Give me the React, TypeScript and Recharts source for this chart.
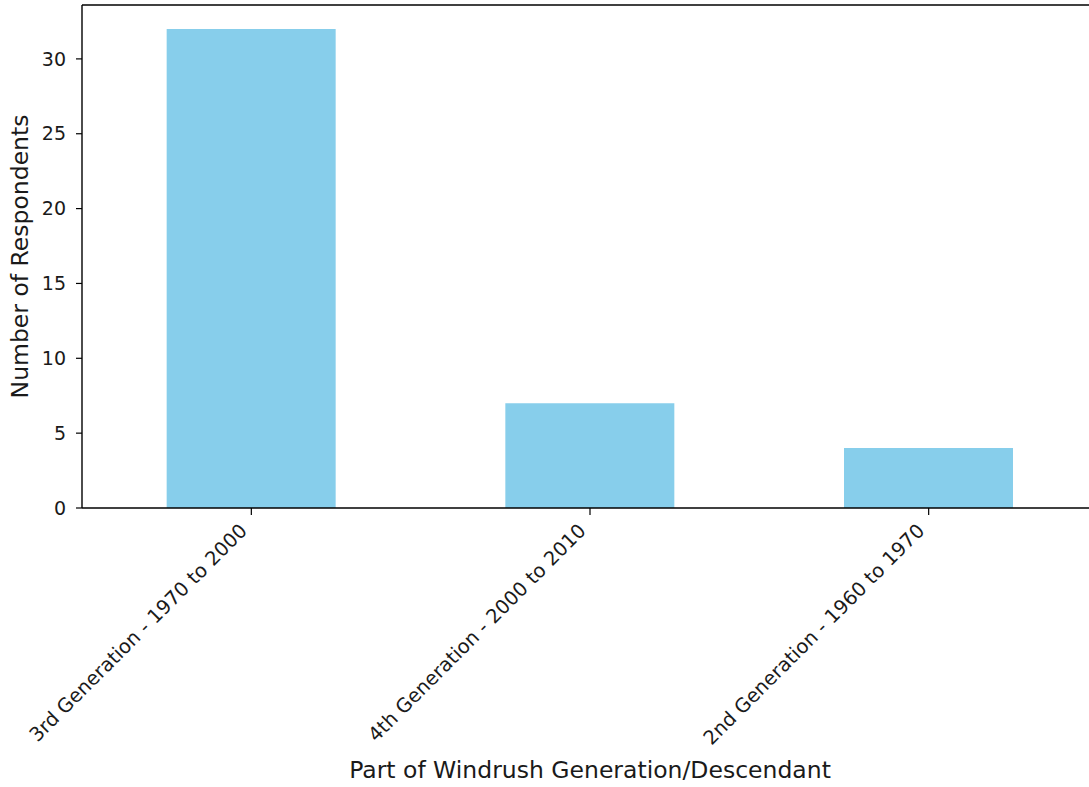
import { Bar, BarChart, Label, ReferenceLine, XAxis, YAxis } from 'recharts'

const generations = ['3rd Generation - 1970 to 2000', '4th Generation - 2000 to 2010', '2nd Generation - 1960 to 1970']
const respondents = [32, 7, 4]
const yTicks = [0, 5, 10, 15, 20, 25, 30]

const data = generations.map((name, i) => ({ name, count: respondents[i] }))

const FONT = '"DejaVu Sans", sans-serif'
const INK = '#1a1a1a'

// matplotlib-style label: right end pinned under the tick, rotated 45 degrees
function SlantedTick({ x, y, payload }: { x?: number; y?: number; payload?: { value: string } }) {
  return (
    <g transform={`translate(${(x ?? 0) - 3},${(y ?? 0) + 15}) rotate(-45)`}>
      <text textAnchor="end" fontSize={19.5} fontFamily={FONT} fill={INK}>
        {payload?.value}
      </text>
    </g>
  )
}

export default function App() {
  return (
    <div style={{ position: 'fixed', left: 0, top: 0, width: 1089, height: 787, overflow: 'hidden', background: '#fff' }}>
      <BarChart width={1108} height={787} data={data} margin={{ top: 5, right: 10, bottom: 0, left: 0 }} barCategoryGap="25%">
        <XAxis
          dataKey="name"
          interval={0}
          height={279}
          tickSize={7}
          tickMargin={2}
          tick={<SlantedTick />}
          axisLine={{ stroke: '#000', strokeWidth: 1.4 }}
          tickLine={{ stroke: '#000', strokeWidth: 1.2 }}
        >
          <Label
            content={({ viewBox }: any) => (
              <text x={viewBox.x + viewBox.width / 2} y={778} textAnchor="middle" fontSize={23.5} fontFamily={FONT} fill={INK}>
                Part of Windrush Generation/Descendant
              </text>
            )}
          />
        </XAxis>
        <YAxis
          width={82}
          domain={[0, 33.6]}
          ticks={yTicks}
          tickSize={6}
          tickMargin={10}
          tick={{ fontSize: 19, fontFamily: FONT, fill: INK }}
          axisLine={{ stroke: '#000', strokeWidth: 1.4 }}
          tickLine={{ stroke: '#000', strokeWidth: 1.2 }}
        >
          <Label
            content={({ viewBox }: any) => (
              <text
                transform={`translate(28,${viewBox.y + viewBox.height / 2}) rotate(-90)`}
                textAnchor="middle"
                fontSize={23.5}
                fontFamily={FONT}
                fill={INK}
              >
                Number of Respondents
              </text>
            )}
          />
        </YAxis>
        <ReferenceLine y={33.6} stroke="#000" strokeWidth={1.4} />
        <Bar dataKey="count" fill="#87ceeb" isAnimationActive={false} />
      </BarChart>
    </div>
  )
}
